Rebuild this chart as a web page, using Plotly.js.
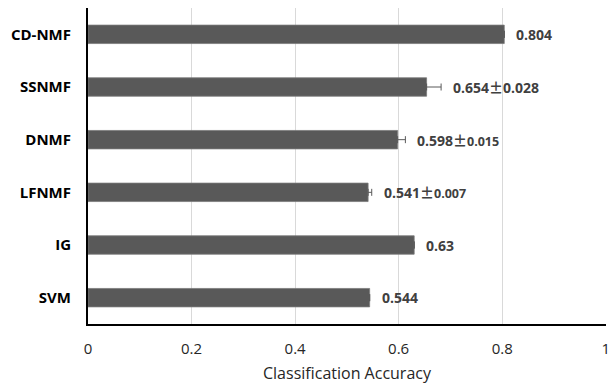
<!DOCTYPE html>
<html>
<head>
<meta charset="utf-8">
<script src="https://cdn.plot.ly/plotly-3.0.1.min.js"></script>
<style>html,body{margin:0;padding:0;background:#fff;}#chart{width:610px;height:386px;}</style>
</head>
<body>
<div id="chart"></div>
<script>
const methods = ["CD-NMF", "SSNMF", "DNMF", "LFNMF", "IG", "SVM"];
const accuracy = [0.804, 0.654, 0.598, 0.541, 0.63, 0.544];
const stdDev = [null, 0.028, 0.015, 0.007, null, null];
const meanText = ["0.804", "0.654", "0.598", "0.541", "0.63", "0.544"];
const stdText = ["", "0.028", "0.015", "0.007", "", ""];
const xTicks = [0, 0.2, 0.4, 0.6, 0.8, 1];
const xTickText = ["0", "0.2", "0.4", "0.6", "0.8", "1"];

const FONT = "'Open Sans', 'Noto Sans', sans-serif";
const PM = "<span style=\"font-family:'Noto Sans CJK SC'\">±</span>";

const trace = {
  type: 'bar',
  orientation: 'h',
  y: methods,
  x: accuracy,
  marker: { color: '#595959', line: { color: '#7a7a7a', width: 0.8 } },
  error_x: {
    type: 'data',
    symmetric: false,
    array: stdDev,
    arrayminus: stdDev.map(() => 0),
    color: '#595959',
    thickness: 1,
    width: 3.5
  },
  hoverinfo: 'none'
};

const annotations = methods.map((m, i) => {
  let txt = meanText[i];
  if (stdText[i]) {
    const small = (i === 1) ? '' : " style='font-size:12.5px'";
    txt = meanText[i] + PM + (small ? "<span" + small + ">" + stdText[i] + "</span>" : stdText[i]);
  }
  return {
    x: accuracy[i] + (stdDev[i] || 0),
    y: m,
    xref: 'x', yref: 'y',
    text: '<b>' + txt + '</b>',
    showarrow: false,
    xanchor: 'left',
    yanchor: 'middle',
    xshift: 10,
    font: { family: FONT, size: 14, color: '#404040' }
  };
});

const layout = {
  width: 610, height: 386,
  margin: { l: 88, r: 4, t: 8, b: 62 },
  paper_bgcolor: '#ffffff',
  plot_bgcolor: '#ffffff',
  showlegend: false,
  bargap: 0.65,
  font: { family: FONT, color: '#404040' },
  xaxis: {
    range: [0, 1.0005],
    tickvals: xTicks,
    ticktext: xTickText,
    showgrid: true,
    gridcolor: '#d9d9d9',
    gridwidth: 1,
    zeroline: false,
    showline: true,
    linecolor: '#000000',
    linewidth: 2,
    ticks: 'outside',
    ticklen: 10,
    tickcolor: 'rgba(0,0,0,0)',
    ticklabeloverflow: 'allow',
    tickfont: { family: FONT, size: 15, color: '#262626' },
    title: { text: 'Classification Accuracy', font: { family: FONT, size: 16, color: '#262626' }, standoff: 11 },
    fixedrange: true
  },
  yaxis: {
    type: 'category',
    categoryorder: 'array',
    categoryarray: methods,
    autorange: 'reversed',
    showgrid: false,
    zeroline: false,
    showline: true,
    linecolor: '#000000',
    linewidth: 2,
    ticks: 'outside',
    ticklen: 12,
    tickcolor: 'rgba(0,0,0,0)',
    tickfont: { family: FONT, size: 15, color: '#000000', weight: 'bold' },
    fixedrange: true
  },
  annotations: annotations
};

Plotly.newPlot('chart', [trace], layout, { staticPlot: true, displayModeBar: false });
</script>
</body>
</html>
